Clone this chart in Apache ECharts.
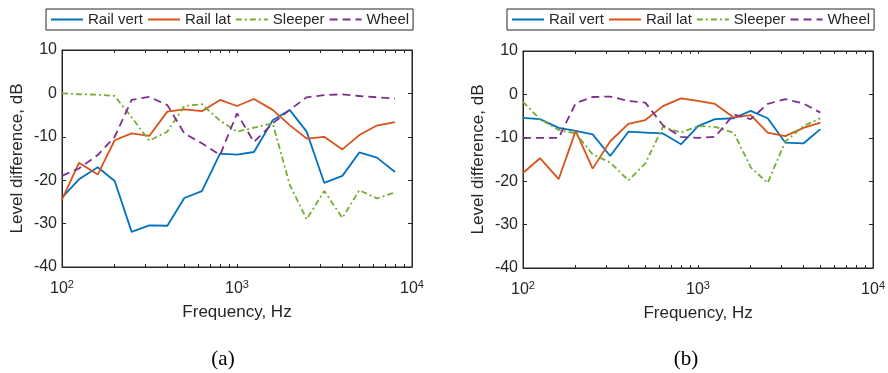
<!DOCTYPE html>
<html>
<head>
<meta charset="utf-8">
<script src="https://cdn.jsdelivr.net/npm/echarts@6/dist/echarts.min.js"></script>
<style>
  html, body { margin: 0; padding: 0; background: #fff; }
  #chart { width: 888px; height: 373px; }
</style>
</head>
<body>
<div id="chart"></div>
<script>
// 1/3 octave band centre frequencies
var freqA = [100, 125, 160, 200, 250, 315, 400, 500, 630, 800, 1000, 1250, 1600, 2000, 2500, 3150, 4000, 5000, 6300, 8000];
var freqB = [100, 125, 160, 200, 250, 315, 400, 500, 630, 800, 1000, 1250, 1600, 2000, 2500, 3150, 4000, 5000];

// (a)
var railVertA = [-24, -19.8, -17, -20.2, -31.9, -30.4, -30.5, -24.1, -22.5, -13.9, -14.1, -13.5, -6.2, -3.8, -8.8, -20.6, -19, -13.6, -14.8, -18.1];
var railLatA  = [-24.5, -16, -18.7, -10.8, -9.2, -9.8, -4.2, -3.7, -4.1, -1.5, -2.9, -1.3, -3.8, -7.3, -10.4, -10, -12.9, -9.6, -7.4, -6.6];
var sleeperA  = [0, -0.2, -0.3, -0.6, -5.5, -10.9, -8.8, -2.9, -2.5, -6.3, -8.8, -7.9, -6.9, -21, -29, -22.5, -28.7, -22.3, -24.2, -22.8];
var wheelA    = [-19, -17.3, -14.2, -10, -1.5, -0.8, -2.7, -9.2, -11.5, -14.2, -4.6, -11.2, -6.9, -3.8, -0.9, -0.4, -0.2, -0.6, -0.9, -1.2];

// (b)
var railVertB = [-5.4, -5.7, -7.7, -8.4, -9.2, -14.2, -8.6, -8.8, -9, -11.5, -7.3, -5.7, -5.5, -3.8, -5.5, -11.1, -11.3, -8];
var railLatB  = [-18.1, -14.7, -19.5, -8.4, -17.1, -10.8, -6.8, -5.9, -2.7, -0.9, -1.5, -2.2, -5.3, -4.8, -8.8, -9.6, -7.7, -6.5];
var sleeperB  = [-1.7, -5.7, -8.2, -9, -13.8, -15.7, -19.8, -15.9, -7.5, -8.8, -7.3, -7.5, -8.8, -16.8, -20.4, -10.9, -7.3, -5.5];
var wheelB    = [-10, -10, -10, -2, -0.6, -0.5, -1.5, -1.9, -7.1, -9.8, -10, -9.8, -4.6, -5.7, -2.2, -1.1, -2.1, -4.2];

var yTicks = [10, 0, -10, -20, -30, -40];
var xMajor = [100, 1000, 10000];
var names = ['Rail vert', 'Rail lat', 'Sleeper', 'Wheel'];

var xTicks = [];
[100, 1000].forEach(function (d) {
    for (var k = 1; k <= 9; k++) xTicks.push(d * k);
});
xTicks.push(10000);

var ink = '#262626';
var font = 'Liberation Sans, Arial, sans-serif';
var colors = ['#0072BD', '#D95319', '#77AC30', '#7E2F8E'];
var styles = ['solid', 'solid', [6, 3, 2, 3], [8, 5]];

var grids = [
    { left: 62, top: 50, width: 350, height: 217, show: true, borderColor: ink, borderWidth: 1 },
    { left: 523, top: 51, width: 352, height: 217, show: true, borderColor: ink, borderWidth: 1 }
];

function pairs(xs, ys) {
    return xs.map(function (x, i) { return [x, ys[i]]; });
}

var xAxes = [], yAxes = [], series = [];
[0, 1].forEach(function (g) {
    xAxes.push({
        type: 'log', logBase: 10, min: 100, max: 10000, gridIndex: g, position: 'bottom', offset: 0,
        name: 'Frequency, Hz', nameLocation: 'middle', nameGap: 37,
        nameTextStyle: { color: ink, fontSize: 17, fontFamily: font },
        axisLine: { show: true, onZero: false, lineStyle: { color: ink } },
        axisTick: { show: true, inside: true, length: 3, customValues: xTicks, lineStyle: { color: ink } },
        axisLabel: {
            customValues: xMajor, margin: 12, color: ink, fontSize: 16, fontFamily: font,
            formatter: function (v) { return '10{s|' + Math.round(Math.log10(v)) + '}'; },
            rich: { s: { fontSize: 11, fontFamily: font, color: ink, padding: [0, 0, 9, 0] } }
        },
        splitLine: { show: false }
    });
    xAxes.push({
        type: 'log', logBase: 10, min: 100, max: 10000, gridIndex: g, position: 'top', offset: 0,
        axisLine: { show: true, onZero: false, lineStyle: { color: ink } },
        axisTick: { show: true, inside: true, length: 3, customValues: xTicks, lineStyle: { color: ink } },
        axisLabel: { show: false },
        splitLine: { show: false }
    });
    yAxes.push({
        type: 'value', min: -40, max: 10, interval: 10, gridIndex: g, position: 'left', offset: 0,
        name: 'Level difference, dB', nameLocation: 'middle', nameGap: 36,
        nameTextStyle: { color: ink, fontSize: 17, fontFamily: font },
        axisLine: { show: true, onZero: false, lineStyle: { color: ink } },
        axisTick: { show: true, inside: true, length: 4, customValues: yTicks, lineStyle: { color: ink } },
        axisLabel: { customValues: yTicks, margin: 5, color: ink, fontSize: 16, fontFamily: font },
        splitLine: { show: false }
    });
    yAxes.push({
        type: 'value', min: -40, max: 10, interval: 10, gridIndex: g, position: 'right', offset: 0,
        axisLine: { show: true, onZero: false, lineStyle: { color: ink } },
        axisTick: { show: true, inside: true, length: 4, customValues: yTicks, lineStyle: { color: ink } },
        axisLabel: { show: false },
        splitLine: { show: false }
    });
});

var dataA = [railVertA, railLatA, sleeperA, wheelA];
var dataB = [railVertB, railLatB, sleeperB, wheelB];
[[freqA, dataA], [freqB, dataB]].forEach(function (set, g) {
    set[1].forEach(function (ys, i) {
        series.push({
            name: names[i], type: 'line', xAxisIndex: g * 2, yAxisIndex: g * 2,
            data: pairs(set[0], ys), symbol: 'none', animation: false,
            lineStyle: { color: colors[i], width: 1.8, type: styles[i] },
            itemStyle: { color: colors[i], opacity: 0 }
        });
    });
});

var legendBase = {
    data: names, orient: 'horizontal', top: 9,
    borderColor: ink, borderWidth: 1, padding: [3, 4], itemGap: 4,
    itemWidth: 32, itemHeight: 14,
    itemStyle: { opacity: 0 },
    textStyle: { color: ink, fontSize: 15, fontFamily: font }
};

var serif = 'Liberation Serif, Times New Roman, serif';
var myChart = echarts.init(document.getElementById('chart'));
var option = {
    backgroundColor: '#fff',
    title: [
        { text: '(a)', left: 218, top: 344, textAlign: 'center', textStyle: { fontFamily: serif, fontSize: 21, fontWeight: 'normal', color: '#000' } },
        { text: '(b)', left: 681, top: 344, textAlign: 'center', textStyle: { fontFamily: serif, fontSize: 21, fontWeight: 'normal', color: '#000' } }
    ],
    legend: [
        Object.assign({}, legendBase, { left: 46 }),
        Object.assign({}, legendBase, { left: 507 })
    ],
    grid: grids,
    xAxis: xAxes,
    yAxis: yAxes,
    series: series
};
myChart.setOption(option, true);
window.onresize = myChart.resize;
</script>
</body>
</html>
